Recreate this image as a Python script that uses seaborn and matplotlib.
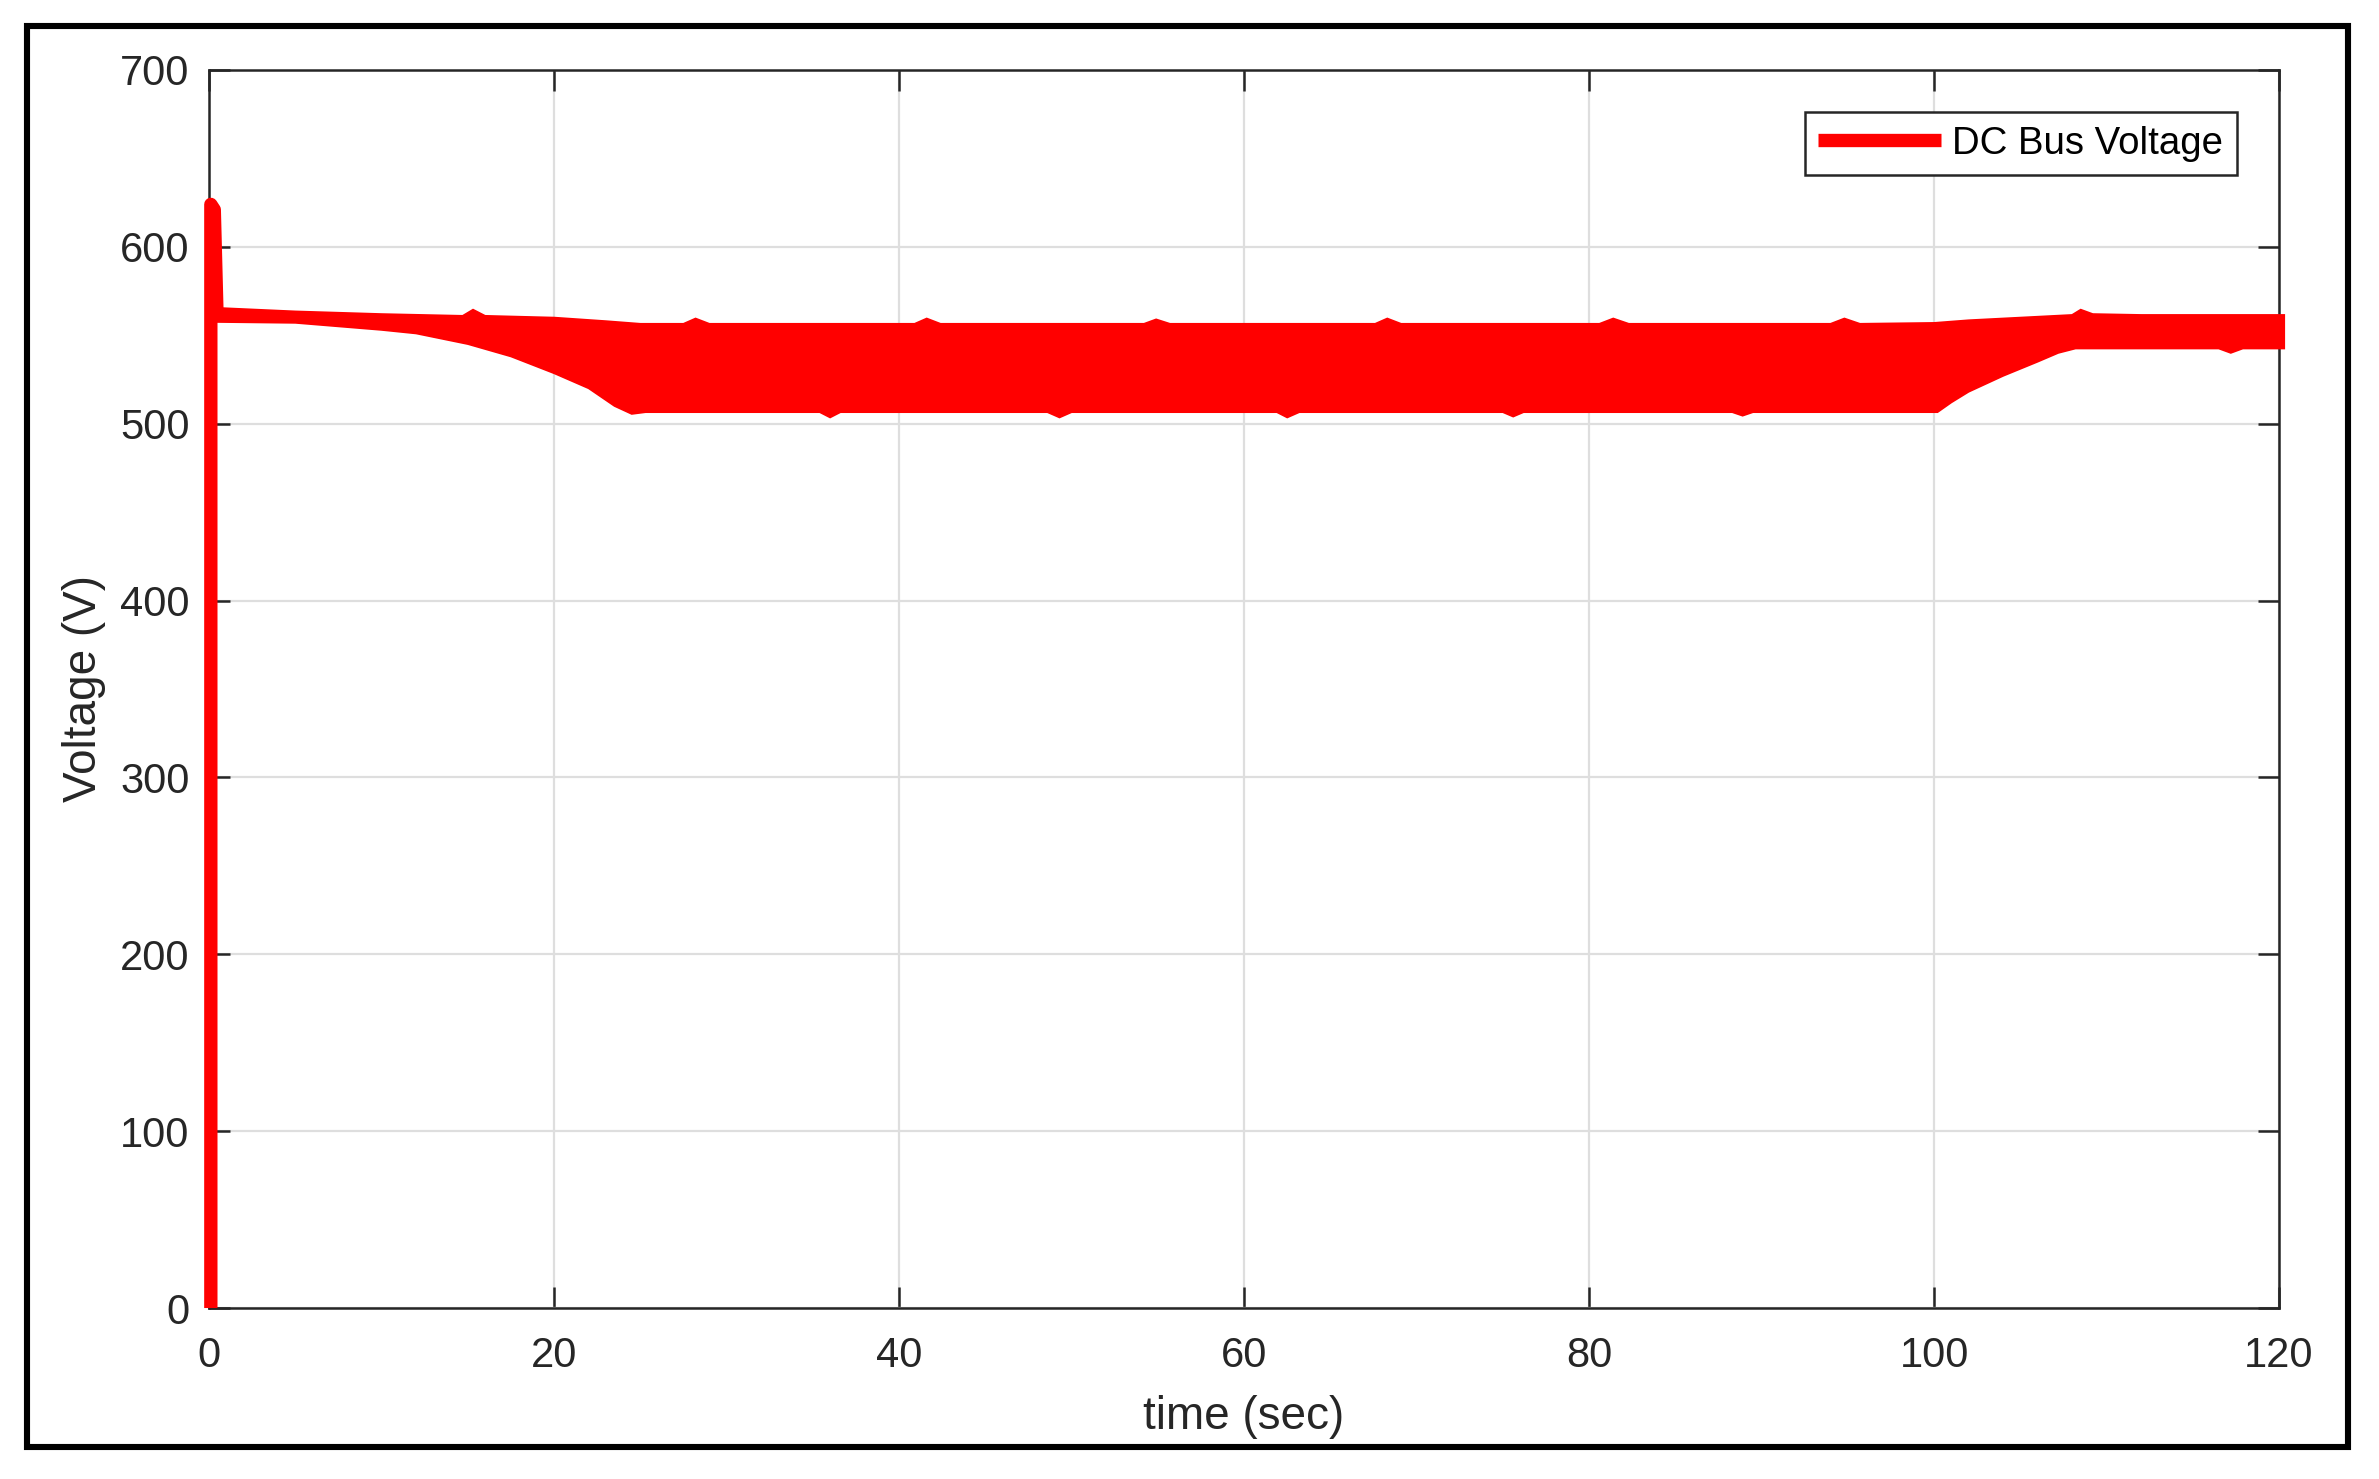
import numpy as np
import seaborn as sns
import matplotlib.pyplot as plt
from matplotlib.patches import Rectangle

# start-up spike of the DC bus (sec, V)
spike_t = [0.1, 0.1, 0.3, 0.45]
spike_v = [0, 624, 621, 565]

# upper envelope of the ripple band (sec, V)
up_t = [0.45, 5, 10, 14.7, 15.3, 16.0, 20, 23, 25, 27.5, 28.2, 29.0,
        40.9, 41.6, 42.4, 54.2, 54.9, 55.7, 67.6, 68.3, 69.1, 80.6, 81.4, 82.3,
        94.0, 94.8, 95.7, 100, 102, 104, 106, 108, 108.5, 109.2, 112, 116, 120.3]
up_v = [565.5, 563.5, 562, 561, 564.5, 561, 560, 558, 556.5, 556.5, 559.5, 556.5,
        556.5, 559.5, 556.5, 556.5, 559, 556.5, 556.5, 559.5, 556.5, 556.5, 559.5, 556.5,
        556.5, 559.5, 556.5, 557, 558.5, 559.5, 560.5, 561.5, 564.5, 562, 561.5, 561.5, 561.5]

# lower envelope of the ripple band (sec, V)
lo_t = [0.45, 5, 10, 12, 15, 17.5, 20, 22, 23.5, 24.5, 25.3,
        35.4, 36.0, 36.6, 48.6, 49.3, 50.0, 61.9, 62.5, 63.2, 75.0, 75.6, 76.2,
        88.3, 88.9, 89.5, 100.2, 101, 102, 104, 106, 107.2, 108.2, 116.5, 117.2, 117.9, 120.3]
lo_v = [557.5, 557, 553, 551, 545, 538, 528.5, 520, 510, 505.5, 506.5,
        506.5, 503.5, 506.5, 506.5, 503.5, 506.5, 506.5, 503.5, 506.5, 506.5, 504, 506.5,
        506.5, 504.5, 506.5, 506.5, 512, 518, 527, 535, 540, 542.5, 542.5, 540, 542.5, 542.5]

x_ticks = [0, 20, 40, 60, 80, 100, 120]
y_ticks = [0, 100, 200, 300, 400, 500, 600, 700]

sns.set_style('whitegrid')
plt.rcParams['font.family'] = ['Liberation Sans', 'DejaVu Sans']

fig = plt.figure(figsize=(2379 / 200, 1479 / 200), dpi=200)
ax = fig.add_axes([0.0879, 0.1156, 0.8701, 0.8371])

# ripple band
band_x = np.r_[up_t, lo_t[::-1]]
band_y = np.r_[up_v, lo_v[::-1]]
ax.fill(band_x, band_y, color='red', lw=0.6, clip_on=False, zorder=3)

# spike trace (also gives the legend entry)
sns.lineplot(x=spike_t, y=spike_v, ax=ax, color='red', lw=4.8, sort=False,
             estimator=None, label='DC Bus Voltage', clip_on=False,
             solid_capstyle='butt', zorder=3)

ax.set_xlim(0, 120)
ax.set_ylim(0, 700)
ax.set_xticks(x_ticks)
ax.set_yticks(y_ticks)
ax.set_xlabel('time (sec)', fontsize=16.5, color='#262626', labelpad=7)
ax.set_ylabel('Voltage (V)', fontsize=16.5, color='#262626', labelpad=5)

ax.grid(True, color='#dedede', lw=0.8)
for s in ax.spines.values():
    s.set_visible(True)
    s.set_color('#262626')
    s.set_linewidth(0.9)
ax.tick_params(direction='in', length=7.5, width=0.9, color='#262626',
               labelsize=15, labelcolor='#262626', top=True, right=True,
               bottom=True, left=True)
ax.tick_params(axis='x', pad=10)
ax.tick_params(axis='y', pad=7)

leg = ax.legend(loc='upper right', fontsize=13.8, handlelength=3.2,
                handletextpad=0.3, borderaxespad=1.1, fancybox=False,
                framealpha=1, edgecolor='#262626', borderpad=0.35)
leg.get_frame().set_linewidth(0.9)
for t in leg.get_texts():
    t.set_color('black')

# black frame around the figure
fig.patches.append(Rectangle((0.0113, 0.0216), 0.9756, 0.9608, transform=fig.transFigure,
                             fill=False, ec='black', lw=2.2))

plt.savefig('out.png', dpi=200, facecolor='white')
